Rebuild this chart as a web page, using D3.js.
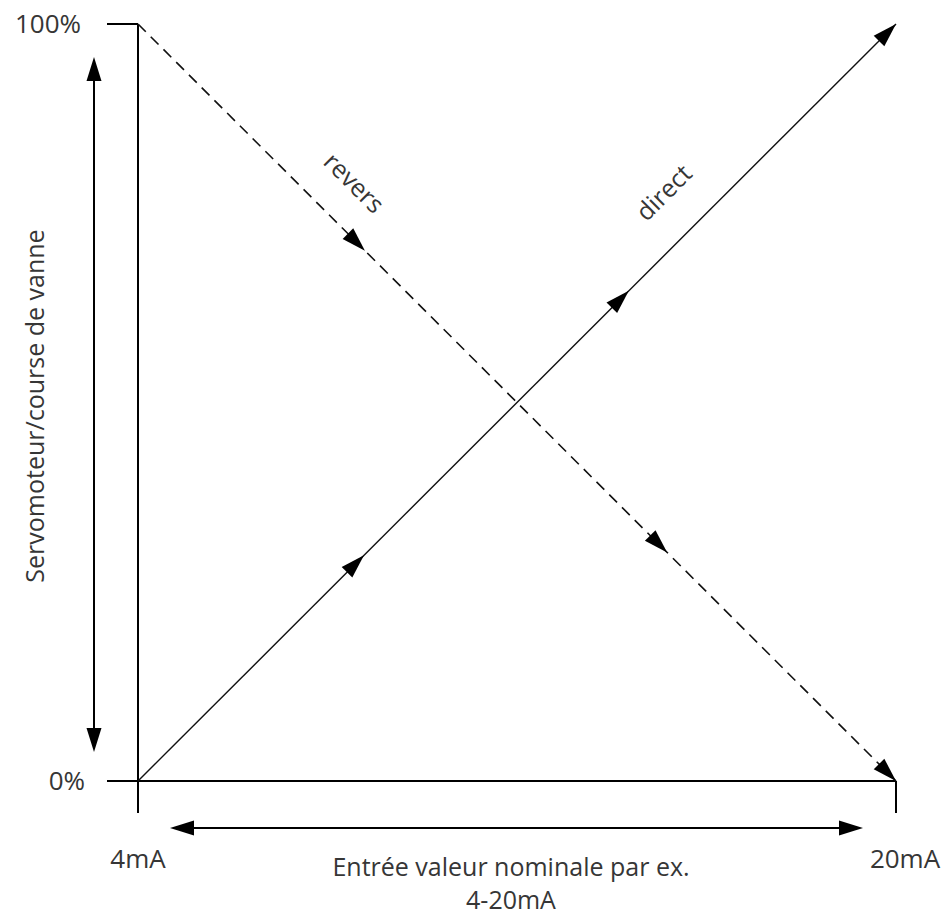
<!DOCTYPE html>
<html>
<head>
<meta charset="utf-8">
<script src="https://cdn.jsdelivr.net/npm/d3@7"></script>
<style>
  html, body { margin: 0; padding: 0; background: #fff; }
  svg { display: block; }
  text { font-family: "Open Sans", "Liberation Sans", sans-serif; fill: #363636; }
</style>
</head>
<body>
<svg id="chart" width="950" height="918"></svg>
<script>
// Input signal range (mA) and actuator stroke range (%)
const inputDomain = [4, 20];
const strokeDomain = [0, 100];

// Tick labels
const xTickLabels = [{ v: 4, label: "4mA" }, { v: 20, label: "20mA" }];
const yTickLabels = [{ v: 100, label: "100%" }, { v: 0, label: "0%" }];

// Characteristic lines: direct action rises, reverse action falls
const directPoints = [{ mA: 4, pct: 0 }, { mA: 20, pct: 100 }];
const reversPoints = [{ mA: 4, pct: 100 }, { mA: 20, pct: 0 }];

// Intermediate direction arrows along each line (input value in mA)
const directArrowsAt = [8.77, 14.36];
const reversArrowsAt = [8.79, 15.17];

// Axis titles and line labels
const xTitle = ["Entrée valeur nominale par ex.", "4-20mA"];
const yTitle = "Servomoteur/course de vanne";
const lineLabels = [
  { text: "revers", mA: 8.43, pct: 78.2, angle: 45 },
  { text: "direct", mA: 15.23, pct: 76.9, angle: -45 }
];

const svg = d3.select("#chart");

const x = d3.scaleLinear().domain(inputDomain).range([138, 896]);
const y = d3.scaleLinear().domain(strokeDomain).range([781, 24]);

const AH_LEN = 24, AH_W = 15;

// Filled triangular arrowhead with its tip at (tx, ty), pointing along angle a
function arrowHead(g, tx, ty, a) {
  const c = Math.cos(a), s = Math.sin(a);
  const bx = tx - AH_LEN * c, by = ty - AH_LEN * s;
  const px = -s * AH_W / 2, py = c * AH_W / 2;
  g.append("path")
    .attr("d", `M${tx},${ty}L${bx + px},${by + py}L${bx - px},${by - py}Z`)
    .attr("fill", "#000");
}

function angleOf(p0, p1) {
  return Math.atan2(y(p1.pct) - y(p0.pct), x(p1.mA) - x(p0.mA));
}

function valueAt(points, mA) {
  const t = (mA - points[0].mA) / (points[1].mA - points[0].mA);
  return points[0].pct + t * (points[1].pct - points[0].pct);
}

const axes = svg.append("g").attr("stroke", "#000").attr("stroke-width", 2).attr("fill", "none");

// Vertical axis with a short extension below the origin
axes.append("line")
  .attr("x1", x(4)).attr("x2", x(4))
  .attr("y1", y(100)).attr("y2", y(0) + 32);
// 100% tick
axes.append("line")
  .attr("x1", x(4) - 31).attr("x2", x(4))
  .attr("y1", y(100)).attr("y2", y(100));
// Horizontal axis with a short extension left of the origin
axes.append("line")
  .attr("x1", x(4) - 31).attr("x2", x(20))
  .attr("y1", y(0)).attr("y2", y(0));
// 20mA tick
axes.append("line")
  .attr("x1", x(20)).attr("x2", x(20))
  .attr("y1", y(0)).attr("y2", y(0) + 32);

const lineGen = d3.line().x(d => x(d.mA)).y(d => y(d.pct));

// Direct characteristic
svg.append("path")
  .datum(directPoints)
  .attr("d", lineGen)
  .attr("fill", "none")
  .attr("stroke", "#111")
  .attr("stroke-width", 1.4);

// Reverse characteristic (dashed)
svg.append("path")
  .datum(reversPoints)
  .attr("d", lineGen)
  .attr("fill", "none")
  .attr("stroke", "#111")
  .attr("stroke-width", 1.6)
  .attr("stroke-dasharray", "11,7");

const heads = svg.append("g");
const aDir = angleOf(directPoints[0], directPoints[1]);
const aRev = angleOf(reversPoints[0], reversPoints[1]);

arrowHead(heads, x(directPoints[1].mA), y(directPoints[1].pct), aDir);
arrowHead(heads, x(reversPoints[1].mA), y(reversPoints[1].pct), aRev);
directArrowsAt.forEach(m => arrowHead(heads, x(m), y(valueAt(directPoints, m)), aDir));
reversArrowsAt.forEach(m => arrowHead(heads, x(m), y(valueAt(reversPoints, m)), aRev));

// Range indicators: double-headed arrows along both axes
const rangeG = svg.append("g");
const vx = 94, vTop = 57, vBot = 752;
rangeG.append("line")
  .attr("x1", vx).attr("x2", vx)
  .attr("y1", vTop + 10).attr("y2", vBot - 10)
  .attr("stroke", "#000").attr("stroke-width", 2);
arrowHead(rangeG, vx, vTop, -Math.PI / 2);
arrowHead(rangeG, vx, vBot, Math.PI / 2);

const hy = 828, hLeft = 170, hRight = 863;
rangeG.append("line")
  .attr("x1", hLeft + 10).attr("x2", hRight - 10)
  .attr("y1", hy).attr("y2", hy)
  .attr("stroke", "#000").attr("stroke-width", 2);
arrowHead(rangeG, hLeft, hy, Math.PI);
arrowHead(rangeG, hRight, hy, 0);

// Font sizes
const fsText = 25, fsNum = 26;

// Tick labels
svg.selectAll(".ylab")
  .data(yTickLabels)
  .join("text")
  .attr("class", "ylab")
  .attr("x", d => d.v === 100 ? 81 : 85)
  .attr("y", d => y(d.v))
  .attr("dy", "0.35em")
  .attr("text-anchor", "end")
  .attr("font-size", fsNum)
  .text(d => d.label);

svg.selectAll(".xlab")
  .data(xTickLabels)
  .join("text")
  .attr("class", "xlab")
  .attr("x", d => d.v === 20 ? x(d.v) + 9 : x(d.v))
  .attr("y", 868)
  .attr("text-anchor", "middle")
  .attr("font-size", fsNum)
  .text(d => d.label);

// Axis titles
svg.append("text")
  .attr("x", 511).attr("y", 876)
  .attr("text-anchor", "middle")
  .attr("font-size", fsText)
  .text(xTitle[0]);
svg.append("text")
  .attr("x", 511).attr("y", 909)
  .attr("text-anchor", "middle")
  .attr("font-size", fsText)
  .text(xTitle[1]);

svg.append("text")
  .attr("transform", "translate(44,406) rotate(-90)")
  .attr("text-anchor", "middle")
  .attr("font-size", fsText)
  .text(yTitle);

// Labels placed alongside the characteristic lines
svg.selectAll(".linelab")
  .data(lineLabels)
  .join("text")
  .attr("class", "linelab")
  .attr("transform", d => `translate(${x(d.mA)},${y(d.pct)}) rotate(${d.angle})`)
  .attr("text-anchor", "middle")
  .attr("font-size", fsText)
  .text(d => d.text);
</script>
</body>
</html>
